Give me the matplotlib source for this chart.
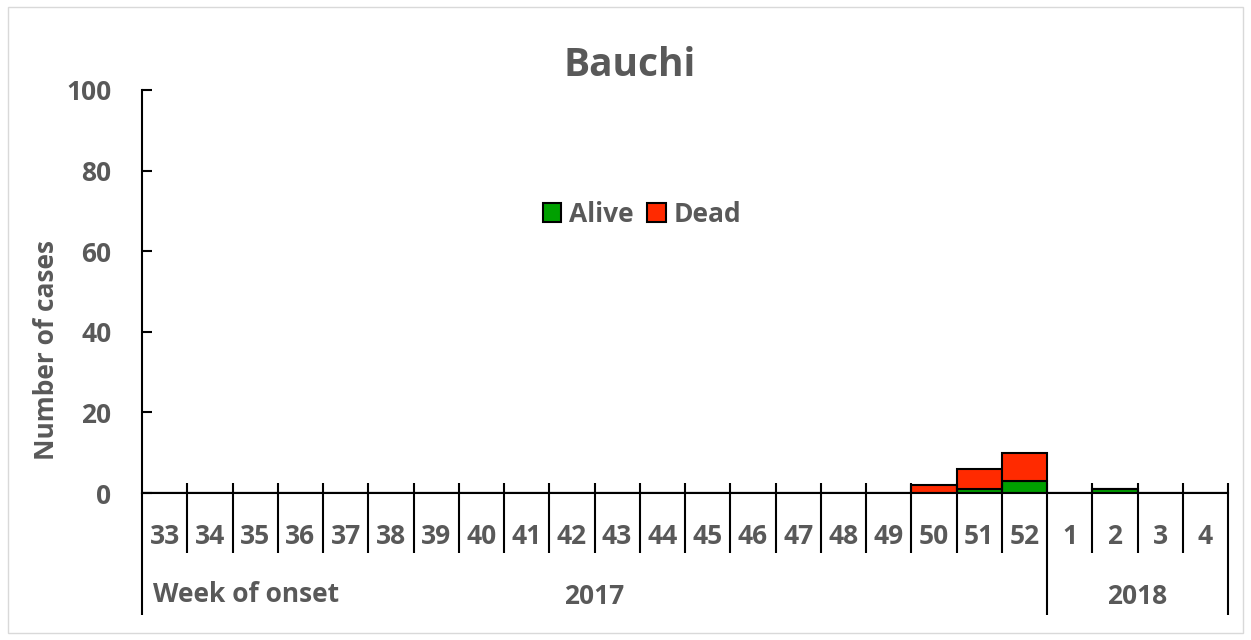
import matplotlib
matplotlib.use("Agg")
import matplotlib.pyplot as plt
from matplotlib.patches import Rectangle
import numpy as np

weeks = ["33", "34", "35", "36", "37", "38", "39", "40", "41", "42", "43", "44",
         "45", "46", "47", "48", "49", "50", "51", "52", "1", "2", "3", "4"]
alive = [0, 0, 0, 0, 0, 0, 0, 0, 0, 0, 0, 0, 0, 0, 0, 0, 0, 0, 1, 3, 0, 1, 0, 0]
dead = [0, 0, 0, 0, 0, 0, 0, 0, 0, 0, 0, 0, 0, 0, 0, 0, 0, 2, 5, 7, 0, 0, 0, 0]
years = ["2017", "2018"]
year_counts = [20, 4]

plt.rcParams['font.family'] = ['Open Sans', 'DejaVu Sans']
txt = '#595959'
green = '#00A000'
red = '#FF2A00'
FS = 19

fig = plt.figure(figsize=(12.51, 6.4), dpi=100)
fig.patches.append(Rectangle((0.006, 0.011), 0.988, 0.978, transform=fig.transFigure,
                             fill=False, edgecolor='#d9d9d9', linewidth=1))
ax = fig.add_axes([142/1251, 1-493/640, (1228-142)/1251, 403/640])

x = np.arange(len(weeks)) + 0.5
ax.bar(x, alive, width=1.0, color=green, edgecolor='black', linewidth=1.5, label='Alive')
ax.bar(x, dead, width=1.0, bottom=alive, color=red, edgecolor='black', linewidth=1.5, label='Dead')

ax.set_xlim(0, len(weeks))
ax.set_ylim(0, 100)
ax.set_yticks([0, 20, 40, 60, 80, 100])
ax.tick_params(axis='y', direction='in', length=7, width=1.5, labelsize=FS,
               labelcolor=txt, pad=22)
for lab in ax.get_yticklabels():
    lab.set_fontweight('bold')
ax.set_xticks([])
for s in ['top', 'right']:
    ax.spines[s].set_visible(False)
ax.spines['left'].set_linewidth(1.5)
ax.spines['bottom'].set_linewidth(1.5)

upp = 100 / 403.0  # data units per pixel
t_top = 10 * upp
t_mid = -60 * upp
t_bot = -122 * upp
n = len(weeks)
for i in range(n + 1):
    full = (i == 0) or (i == n) or (i == year_counts[0])
    ax.plot([i, i], [t_top if i > 0 else 0, t_bot if full else t_mid], color='black',
            linewidth=1.5, clip_on=False, solid_capstyle='butt')
for i, w in enumerate(weeks):
    ax.text(i + 0.5, -44 * upp, w, ha='center', va='center', fontsize=FS,
            fontweight='bold', color=txt, clip_on=False)
start = 0
for yr, c in zip(years, year_counts):
    ax.text(start + c / 2, -104 * upp, yr, ha='center', va='center', fontsize=FS,
            fontweight='bold', color=txt, clip_on=False)
    start += c
ax.text(0.25, -102 * upp, "Week of onset", ha='left', va='center', fontsize=FS,
        fontweight='bold', color=txt, clip_on=False)

fig.text(47/1251, 1-350/640, "Number of cases", rotation=90, ha='center', va='center',
         fontsize=FS, fontweight='bold', color=txt)
fig.text(630/1251, 1-65/640, "Bauchi", ha='center', va='center', fontsize=28,
         fontweight='bold', color=txt)

leg = ax.legend(loc='center', bbox_to_anchor=((642-142)/1086, (493-214)/403), ncol=2,
                frameon=False, fontsize=FS, handlelength=0.7, handleheight=0.7,
                handletextpad=0.3, columnspacing=0.5)
for t in leg.get_texts():
    t.set_fontweight('bold')
    t.set_color(txt)

fig.savefig("out.png", dpi=100)
